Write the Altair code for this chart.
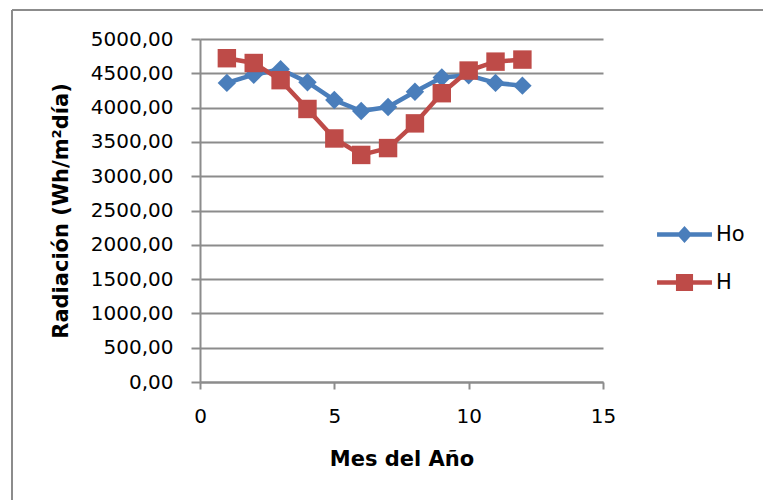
import altair as alt
import pandas as pd

# ---- data ----
months = list(range(1, 13))
ho_values = [4360, 4480, 4560, 4370, 4110, 3950, 4010, 4230, 4440, 4470, 4360, 4320]
h_values = [4720, 4650, 4400, 3980, 3550, 3310, 3410, 3770, 4210, 4540, 4670, 4700]
series = ["Ho", "H"]
colors = ["#4A7EBB", "#BE4B48"]
y_ticks = [0, 500, 1000, 1500, 2000, 2500, 3000, 3500, 4000, 4500, 5000]
x_ticks = [0, 5, 10, 15]

df = pd.DataFrame({
    "Mes": months + months,
    "Rad": ho_values + h_values,
    "Serie": ["Ho"] * len(months) + ["H"] * len(months),
})

GRAY = "#8C8C8C"
FONT = "DejaVu Sans"

x_enc = alt.X(
    "Mes:Q",
    scale=alt.Scale(domain=[0, 15], nice=False, zero=False),
    axis=alt.Axis(
        values=x_ticks, title="Mes del Año", grid=False, labelFlush=False,
        tickSize=7, labelPadding=17, labelFontSize=20, labelFont=FONT,
        labelColor="#000000", titleFont=FONT, titleFontSize=21,
        titleFontWeight="bold", titleColor="#000000",
        titleBaseline="alphabetic", titleY=83,
    ),
)
y_enc = alt.Y(
    "Rad:Q",
    scale=alt.Scale(domain=[0, 5000], nice=False),
    axis=alt.Axis(
        values=y_ticks, title="Radiación (Wh/m²día)", grid=True,
        labelExpr="replace(format(datum.value, '.2f'), '.', ',')",
        tickSize=9, labelPadding=18, labelFontSize=20, labelFont=FONT,
        labelColor="#000000", titleFont=FONT, titleFontSize=21,
        titleFontWeight="bold", titleColor="#000000",
        titleX=-129, titleY=171.5, titleAngle=270, titleBaseline="bottom",
        titleAlign="center",
    ),
)

base = alt.Chart(df)

layers = []
for name, col, shp in zip(series, colors, ["diamond", "square"]):
    sub = base.transform_filter(alt.datum.Serie == name)
    layers.append(
        sub.mark_line(strokeWidth=4.5, strokeJoin="round", color=col).encode(x=x_enc, y=y_enc)
    )
    layers.append(
        sub.mark_point(filled=True, size=340, opacity=1, color=col, shape=shp).encode(x=x_enc, y=y_enc)
    )

# legend-only layer: symbols are a line with the series marker
path_ho = "M-3.05,-0.25H3.05V0.25H-3.05Z M0,-0.95L0.85,0L0,0.95L-0.85,0Z"
path_h = "M-3.05,-0.25H3.05V0.25H-3.05Z M-0.95,-0.95H0.95V0.95H-0.95Z"
leg = alt.Legend(
    title=None, orient="none", legendX=474, legendY=185,
    symbolSize=324, symbolOpacity=1, symbolStrokeWidth=0,
    labelFont=FONT, labelFontSize=21, labelColor="#000000",
    labelOffset=21, rowPadding=26,
)
legend_layer = base.mark_point(filled=True, opacity=0).encode(
    x=x_enc, y=y_enc,
    color=alt.Color("Serie:N", scale=alt.Scale(domain=series, range=colors), legend=leg),
    shape=alt.Shape("Serie:N", scale=alt.Scale(domain=series, range=[path_ho, path_h]), legend=leg),
)

# outer chart frame (top and left edges visible)
frame_df = pd.DataFrame({"k": [0]})
frame_left = alt.Chart(frame_df).mark_rule(color=GRAY, strokeWidth=2).encode(
    x=alt.value(-188), y=alt.value(-29), y2=alt.value(480)
)
frame_top = alt.Chart(frame_df).mark_rule(color=GRAY, strokeWidth=2).encode(
    x=alt.value(-188), x2=alt.value(580), y=alt.value(-29)
)

chart = alt.layer(frame_left, frame_top, *layers, legend_layer).properties(
    width=403, height=343,
    autosize=alt.AutoSizeParams(type="none"),
    padding={"left": 200, "top": 39, "right": 160, "bottom": 118},
    background="#FFFFFF",
).configure_view(stroke=None).configure_axis(
    domainColor=GRAY, domainWidth=2, tickColor=GRAY, tickWidth=2,
    gridColor=GRAY, gridWidth=2,
)

chart.save("out.html", embed_options={"renderer": "svg", "actions": False})
